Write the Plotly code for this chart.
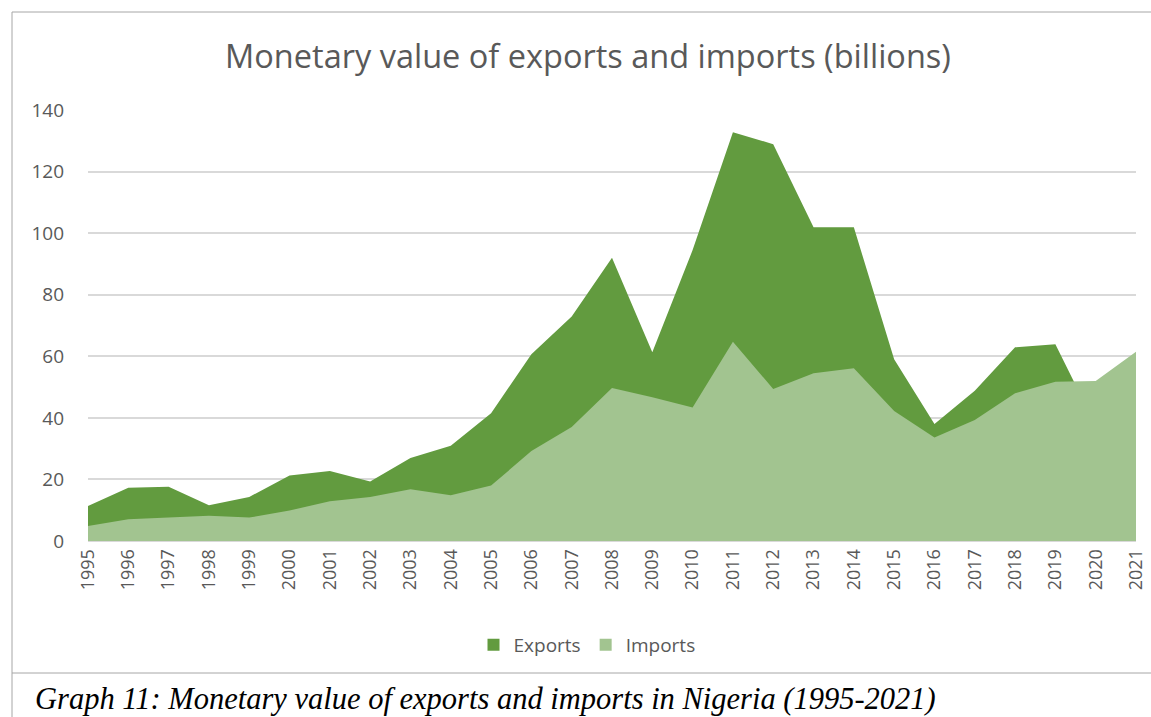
import plotly.graph_objects as go

years = [str(y) for y in range(1995, 2022)]
exports = [11.4, 17.3, 17.6, 11.6, 14.3, 21.3, 22.7, 19.3, 27.0, 30.9, 41.5, 60.7, 72.9, 92.0,
           61.3, 94.5, 132.8, 128.9, 101.9, 101.9, 59.0, 38.0, 48.8, 62.9, 63.9, 37.5, 47.0]
imports = [4.9, 7.1, 7.6, 8.2, 7.6, 9.9, 12.9, 14.3, 16.8, 14.9, 18.0, 29.2, 37.0, 49.7,
           46.7, 43.4, 64.7, 49.4, 54.5, 56.1, 42.2, 33.6, 39.3, 48.0, 51.7, 52.0, 61.5]

W, H = 1151, 717
L, R, T, B = 88, 15, 110, 176
pw, ph = W - L - R, H - T - B

def px(x):
    return (x - L) / pw

def py(y):
    return (H - B - y) / ph

font = "'Open Sans', sans-serif"
grey = "#595959"
c_exp, c_imp = "#629B3F", "#A2C490"
border = dict(color="#a6a6a6", width=1)

fig = go.Figure()
fig.add_trace(go.Scatter(x=years, y=exports, name="Exports", mode="lines", showlegend=False,
                         line=dict(width=0, color=c_exp), fill="tozeroy", fillcolor=c_exp))
fig.add_trace(go.Scatter(x=years, y=imports, name="Imports", mode="lines", showlegend=False,
                         line=dict(width=0, color=c_imp), fill="tozeroy", fillcolor=c_imp))
# legend proxies (square swatches)
fig.add_trace(go.Bar(x=[None], y=[None], name="Exports", marker=dict(color=c_exp, line=dict(width=0))))
fig.add_trace(go.Bar(x=[None], y=[None], name="Imports", marker=dict(color=c_imp, line=dict(width=0))))

fig.update_layout(
    width=W, height=H,
    margin=dict(l=L, r=R, t=T, b=B, autoexpand=False),
    paper_bgcolor="white", plot_bgcolor="white",
    font=dict(family=font, color=grey, size=18),
    title=dict(text="Monetary value of exports and imports (billions)",
               x=588 / W, xanchor="center", y=1 - 57 / H, yanchor="middle",
               font=dict(size=32.5, color=grey, family=font)),
    showlegend=True,
    legend=dict(orientation="h", x=px(587), xanchor="center", y=py(645), yanchor="middle",
                font=dict(size=19, color=grey), traceorder="normal", itemwidth=30),
    xaxis=dict(type="category", range=[0, 26], tickangle=-90, showgrid=False, automargin=False,
               showline=True, linecolor="#d9d9d9", linewidth=1, ticks="",
               tickfont=dict(size=18, color=grey)),
    yaxis=dict(range=[0, 140], tickvals=[0, 20, 40, 60, 80, 100, 120, 140], automargin=False,
               showgrid=True, gridcolor="#d9d9d9", gridwidth=1.5, zeroline=False,
               ticks="", ticklabelstandoff=23, tickfont=dict(size=19, color=grey)),
    shapes=[
        dict(type="line", xref="paper", yref="paper", x0=px(12), x1=px(1151), y0=py(12), y1=py(12), line=border),
        dict(type="line", xref="paper", yref="paper", x0=px(12), x1=px(1151), y0=py(673), y1=py(673), line=border),
        dict(type="line", xref="paper", yref="paper", x0=px(12), x1=px(12), y0=py(12), y1=py(717), line=border),
    ],
    annotations=[
        dict(text="<i>Graph 11: Monetary value of exports and imports in Nigeria (1995-2021)</i>",
             xref="paper", yref="paper", x=px(33), y=py(699), xanchor="left", yanchor="middle",
             showarrow=False,
             font=dict(family="'Liberation Serif', 'Times New Roman', serif", size=30.5, color="black")),
    ],
)

fig.write_html("out.html", config={"displayModeBar": False},
               post_script="document.body.style.margin='0';document.body.style.overflow='hidden';")
